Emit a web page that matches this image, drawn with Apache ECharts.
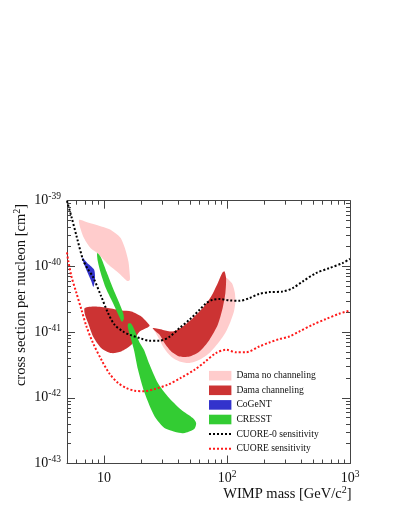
<!DOCTYPE html>
<html>
<head>
<meta charset="utf-8">
<script src="https://cdn.jsdelivr.net/npm/echarts@6/dist/echarts.min.js"></script>
<style>
html, body { margin: 0; padding: 0; background: #fff; }
#chart { width: 399px; height: 516px; }
</style>
</head>
<body>
<div id="chart"></div>
<script>
// region outlines, [WIMP mass GeV, cross section cm^2]
const damaNoChannelingLow = [[6.27,5.09e-40],[7.10,4.80e-40],[9.10,4.17e-40],[10.97,3.71e-40],[12.4,3.20e-40],[13.7,2.69e-40],[14.8,1.89e-40],[15.8,1.18e-40],[16.2,7.4e-41],[16.2,6.2e-41],[15.5,6.0e-41],[13.2,7.9e-41],[10.97,1.05e-40],[8.84,1.59e-40],[7.80,1.89e-40],[6.88,2.69e-40],[6.41,3.85e-40]];
const damaNoChannelingHigh = [[24.9,1.15e-41],[30.1,1.08e-41],[36.3,1.02e-41],[43.7,1.22e-41],[52.7,1.63e-41],[63.5,2.32e-41],[74.3,3.48e-41],[84.1,5.56e-41],[91.2,7.6e-41],[98.9,6.7e-41],[104.6,6.1e-41],[110.6,5.4e-41],[115.8,3.96e-41],[116.9,2.88e-41],[113.7,2.04e-41],[106.5,1.43e-41],[97.0,9.8e-42],[86.7,7.2e-42],[71.9,4.8e-42],[59.7,3.79e-42],[49.5,3.38e-42],[41.1,3.57e-42],[35.2,4.21e-42],[31.0,5.57e-42],[28.3,7.6e-42],[26.3,9.8e-42]];
const damaChannelingLow = [[6.97,2.32e-41],[8.41,2.45e-41],[10.77,2.32e-41],[13.8,2.13e-41],[16.7,2.06e-41],[20.1,1.73e-41],[22.1,1.45e-41],[23.5,1.25e-41],[22.1,1.15e-41],[19.5,1.02e-41],[18.3,8.6e-42],[16.7,6.4e-42],[13.8,5.07e-42],[11.5,4.8e-42],[9.52,5.7e-42],[8.14,8.6e-42],[7.42,1.37e-41],[6.97,1.90e-41]];
const damaChannelingHigh = [[24.9,1.15e-41],[30.1,1.08e-41],[36.3,1.02e-41],[43.7,1.22e-41],[52.7,1.63e-41],[63.5,2.32e-41],[74.3,3.48e-41],[84.1,5.56e-41],[91.2,7.9e-41],[95.2,8.4e-41],[98.3,6.6e-41],[97.0,3.92e-41],[92.2,2.32e-41],[84.1,1.29e-41],[71.9,7.6e-42],[59.7,5.07e-42],[49.5,4.26e-42],[41.1,4.26e-42],[35.2,5.07e-42],[31.0,6.8e-42],[28.3,9.1e-42],[25.8,1.06e-41]];
const cogent = [[6.68,1.37e-40],[7.33,1.12e-40],[7.87,1.0e-40],[8.33,8.85e-41],[8.45,6.6e-41],[8.20,4.88e-41],[7.87,6.0e-41],[7.31,8.2e-41],[6.78,1.17e-40]];
const cresstM2 = [[8.80,1.60e-40],[9.40,1.39e-40],[10.5,8.2e-41],[11.8,4.7e-41],[13.2,2.88e-41],[14.3,1.96e-41],[14.5,1.59e-41],[14.0,1.43e-41],[13.3,1.71e-41],[11.8,2.79e-41],[10.4,4.55e-41],[9.40,7.96e-41],[8.89,1.21e-40]];
const cresstM1 = [[15.7,1.34e-41],[16.5,1.36e-41],[17.7,1.08e-41],[19.5,6.9e-42],[21.1,5.4e-42],[23.5,3.18e-42],[27.4,1.68e-42],[33.0,1.05e-42],[42.4,6.6e-43],[52.7,4.93e-43],[56.1,4.14e-43],[54.4,3.39e-43],[47.7,3.0e-43],[42.4,2.9e-43],[35.4,3.16e-43],[31.0,3.47e-43],[25.8,5.2e-43],[21.4,1.18e-42],[18.9,2.67e-42],[17.5,5.4e-42],[16.2,9.1e-42],[15.6,1.2e-41]];

// sensitivity curves
const cuore0Sens = [[5.0,9.9e-40],[5.44,5.65e-40],[6.00,2.81e-40],[6.75,1.26e-40],[7.37,9.2e-41],[8.14,6.9e-41],[9.52,3.44e-41],[10.77,1.96e-41],[12.2,1.29e-41],[14.3,1.02e-41],[16.2,9.1e-42],[19.5,8.1e-42],[23.5,7.4e-42],[28.3,7.4e-42],[34.1,8.5e-42],[41.1,1.15e-41],[49.5,1.54e-41],[59.7,2.18e-41],[67.7,2.76e-41],[76.5,3.1e-41],[86.7,3.18e-41],[104.6,3.04e-41],[126,2.99e-41],[152,3.29e-41],[183,3.82e-41],[221,4.06e-41],[283,4.14e-41],[341,4.67e-41],[411,5.87e-41],[528,7.9e-41],[677,9.4e-41],[868,1.12e-40],[1000,1.30e-40]];
const cuoreSens = [[5.0,1.63e-40],[5.10,1.26e-40],[5.44,7.0e-41],[5.97,3.92e-41],[6.56,2.18e-41],[7.20,1.22e-41],[8.14,6.8e-42],[9.52,3.79e-42],[11.1,2.32e-42],[13.0,1.68e-42],[15.2,1.41e-42],[17.7,1.28e-42],[21.4,1.26e-42],[25.8,1.36e-42],[33.0,1.58e-42],[42.4,2.02e-42],[54.4,2.67e-42],[65.6,3.48e-42],[81.5,4.8e-42],[98.3,5.38e-42],[118.5,4.93e-42],[142.8,4.93e-42],[183,6.04e-42],[221,6.95e-42],[266,7.83e-42],[321,8.57e-42],[386,1.02e-41],[495,1.29e-41],[636,1.58e-41],[816,1.90e-41],[1000,2.14e-41]];

// axis ticks
const xMajorTicks = [10, 100, 1000];
const xMinorTicks = [5, 6, 7, 8, 9, 20, 30, 40, 50, 60, 70, 80, 90, 200, 300, 400, 500, 600, 700, 800, 900];
const yMajorTicks = [1e-43, 1e-42, 1e-41, 1e-40, 1e-39];
const yMinorTicks = [];
[1e-43, 1e-42, 1e-41, 1e-40].forEach(d => {
    for (let k = 2; k <= 9; k++) yMinorTicks.push(k * d);
});

const lg = Math.log10;
const serif = 'Liberation Serif';
const axisColor = '#444';

const rich = {
    b: { fontFamily: serif, fontSize: 14, color: '#111', lineHeight: 18 },
    s: { fontFamily: serif, fontSize: 9.5, color: '#111', lineHeight: 10, verticalAlign: 'top' }
};

function makeAxis(dim, position, ticks, len, withLine, label) {
    const isX = dim === 'x';
    return {
        type: 'value',
        position: position,
        min: isX ? lg(5) : -43,
        max: isX ? 3 : -39,
        splitLine: { show: false },
        axisLine: { show: withLine, lineStyle: { color: axisColor, width: 1 } },
        axisTick: {
            show: true, inside: true, length: len,
            customValues: ticks.map(lg),
            lineStyle: { color: axisColor, width: 1 }
        },
        axisLabel: label ? {
            show: true,
            customValues: ticks.map(lg),
            margin: 6,
            rich: rich,
            formatter: v => {
                const e = Math.round(v);
                if (isX && e === 1) return '{b|10}';
                return '{b|10}{s|' + e + '}';
            }
        } : { show: false }
    };
}

function regionSeries(name, color, polys) {
    const data = [];
    polys.forEach((p, k) => p.forEach(([m, s]) => data.push([lg(m), lg(s), k])));
    return {
        name: name,
        type: 'custom',
        coordinateSystem: 'cartesian2d',
        itemStyle: { color: color },
        encode: { x: 0, y: 1 },
        data: data,
        silent: true,
        renderItem: (params, api) => {
            if (params.dataIndex !== 0) return null;
            return {
                type: 'group',
                children: polys.map(p => ({
                    type: 'polygon',
                    shape: { points: p.map(([m, s]) => api.coord([lg(m), lg(s)])), smooth: 0.25 },
                    style: { fill: color, stroke: null }
                }))
            };
        }
    };
}

function curveSeries(name, color, pts) {
    return {
        name: name,
        type: 'line',
        data: pts.map(([m, s]) => [lg(m), lg(s)]),
        smooth: 0.3,
        showSymbol: false,
        symbol: 'none',
        silent: true,
        itemStyle: { color: color },
        lineStyle: { color: color, width: 2, type: [2, 2] }
    };
}

const chart = echarts.init(document.getElementById('chart'));
chart.setOption({
    animation: false,
    backgroundColor: '#fff',
    grid: { left: 67, top: 200.7, right: 49, bottom: 52.5, containLabel: false },
    xAxis: [
        makeAxis('x', 'bottom', xMajorTicks, 8, true, true),
        makeAxis('x', 'bottom', xMinorTicks, 4, false, false),
        makeAxis('x', 'top', xMajorTicks, 8, true, false),
        makeAxis('x', 'top', xMinorTicks, 4, false, false)
    ],
    yAxis: [
        makeAxis('y', 'left', yMajorTicks, 8, true, true),
        makeAxis('y', 'left', yMinorTicks, 4, false, false),
        makeAxis('y', 'right', yMajorTicks, 8, true, false),
        makeAxis('y', 'right', yMinorTicks, 4, false, false)
    ],
    legend: {
        orient: 'vertical',
        left: 208,
        top: 370.7,
        padding: 0,
        itemWidth: 22.4,
        itemHeight: 9.6,
        itemGap: 4.6,
        selectedMode: false,
        textStyle: { fontFamily: serif, fontSize: 9.6, color: '#111' },
        data: [
            { name: 'Dama no channeling', icon: 'rect' },
            { name: 'Dama channeling', icon: 'rect' },
            { name: 'CoGeNT', icon: 'rect' },
            { name: 'CRESST', icon: 'rect' },
            { name: 'CUORE-0 sensitivity', itemStyle: { opacity: 0 } },
            { name: 'CUORE sensitivity', itemStyle: { opacity: 0 } }
        ]
    },
    graphic: [
        {
            type: 'text', x: 351.5, y: 494, silent: true,
            style: {
                text: 'WIMP mass [GeV/c{s|2}]', align: 'right', verticalAlign: 'middle',
                fontFamily: serif, fontSize: 14.5, lineHeight: 18, fill: '#111',
                rich: { s: { fontFamily: serif, fontSize: 10, lineHeight: 10, verticalAlign: 'top', fill: '#111' } }
            }
        },
        {
            type: 'text', x: 21, y: 295, rotation: Math.PI / 2, silent: true,
            style: {
                text: 'cross section per nucleon [cm{s|2}]', align: 'center', verticalAlign: 'middle',
                fontFamily: serif, fontSize: 14.5, lineHeight: 18, fill: '#111',
                rich: { s: { fontFamily: serif, fontSize: 10, lineHeight: 10, verticalAlign: 'top', fill: '#111' } }
            }
        }
    ],
    series: [
        regionSeries('Dama no channeling', '#ffcccc', [damaNoChannelingLow, damaNoChannelingHigh]),
        regionSeries('Dama channeling', '#cc3333', [damaChannelingLow, damaChannelingHigh]),
        regionSeries('CoGeNT', '#3333cc', [cogent]),
        regionSeries('CRESST', '#33cc33', [cresstM2, cresstM1]),
        curveSeries('CUORE-0 sensitivity', '#000000', cuore0Sens),
        curveSeries('CUORE sensitivity', '#ff1a1a', cuoreSens)
    ]
});
</script>
</body>
</html>
